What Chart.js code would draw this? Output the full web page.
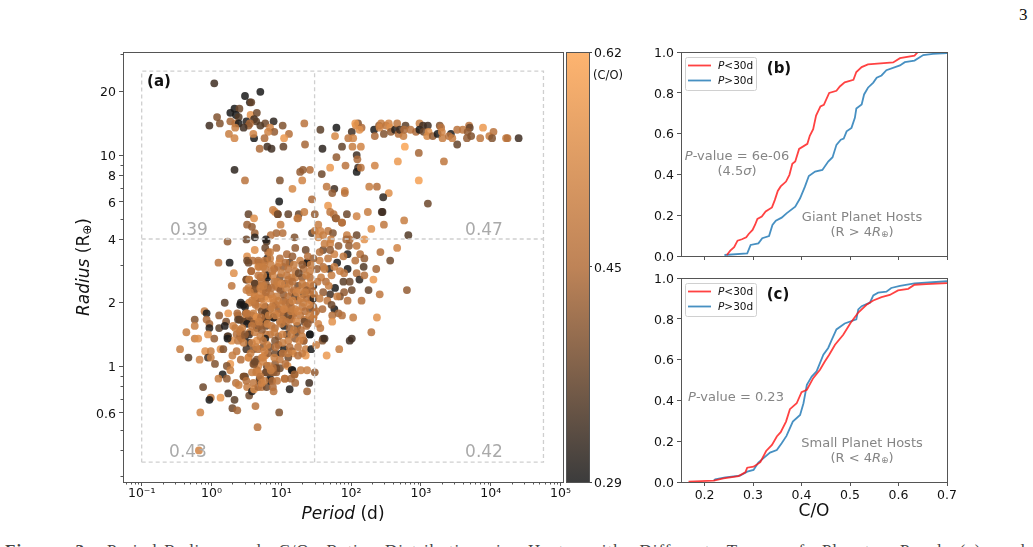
<!DOCTYPE html>
<html>
<head>
<meta charset="utf-8">
<title>C/O ratio versus period and radius</title>
<script src="https://cdn.jsdelivr.net/npm/chart.js@4"></script>
<style>
  html, body { margin: 0; padding: 0; background: #fff; width: 1033px; height: 547px; overflow: hidden; }
  canvas { position: absolute; }
  #pageNumber { position: absolute; left: 1019px; top: 5px; font: 17px "Liberation Serif", serif; color: #111; }
  #caption { position: absolute; left: 5px; top: 541px; width: 1028px; white-space: nowrap; font: 17px "Liberation Serif", serif; color: #444; word-spacing: 11.5px; letter-spacing: 1px; }
</style>
</head>
<body>
<div id="pageNumber">3</div>
<div id="caption"><b>Figure 3.</b> Period-Radius and C/O Ratio Distribution in Hosts with Different Types of Planets. Panel (a) and</div>
<canvas id="scatter" width="600" height="547" style="left:0;top:0"></canvas>
<canvas id="colorbar" width="90" height="547" style="left:560px;top:0"></canvas>
<canvas id="giants" width="403" height="240" style="left:630px;top:30px"></canvas>
<canvas id="smalls" width="403" height="287" style="left:630px;top:260px"></canvas>
<script>
// Host stars: log10 of orbital period (days), log10 of planet radius (Earth radii), stellar C/O.
const logPeriod = [
  .04,.70,.48,.55,.57,.33,.40,.27,.56,.65,
  .08,.35,.39,.12,-.03,.27,.34,.39,.50,.61,
  .64,.89,1.33,1.02,.77,.70,.55,.53,.46,.34,
  .84,.90,.81,.25,.33,.61,.60,.76,1.11,1.04,
  1.34,.69,.80,.86,1.03,1.56,1.79,2.01,2.07,2.10,
  1.77,1.96,2.03,1.59,1.87,2.02,1.79,2.08,2.09,1.70,
  1.92,2.10,2.08,.33,.48,1.41,1.31,1.27,1.58,1.30,
  .98,1.16,1.65,1.76,1.73,1.91,1.91,.97,1.44,1.67,
  .88,.95,1.10,.53,.61,1.25,1.33,1.48,1.70,1.75,
  1.94,2.08,1.78,1.23,1.87,
  2.06,2.15,2.12,2.14,2.14,2.34,2.67,2.77,2.97,3.33,
  3.52,2.97,2.26,2.37,2.54,2.46,3.10,2.24,2.44,2.76,
  2.33,2.34,2.40,2.43,2.41,2.47,2.50,2.54,2.56,2.57,
  2.63,2.66,2.68,2.70,2.75,2.78,2.76,2.85,2.93,2.98,
  2.98,3.03,3.10,3.04,3.11,3.09,3.17,3.27,3.29,3.24,
  3.30,3.31,3.43,3.40,3.45,3.52,3.60,3.69,3.70,3.67,
  3.66,3.72,3.85,3.89,3.98,4.04,4.02,4.22,4.24,4.40,
  .51,.58,.62,.62,.50,.23,.79,.62,.10,.26,
  .32,.29,.51,.51,.59,.67,.76,.57,.67,.77,
  .80,.81,.50,.54,.62,.70,.80,.56,.50,.62,
  .70,.78,.74,.19,.41,.46,.54,.24,.11,.21,
  -.10,-.07,-.24,-.07,-.24,-.03,-.03,-.36,.11,.19,
  .31,.23,-.05,-.24,-.19,.41,.38,.62,.70,.62,
  .77,.67,.49,.58,.65,.78,.49,.55,.72,.78,
  .41,.36,.65,.78,.55,.41,.48,
  .91,.95,1.24,1.79,1.87,2.45,2.47,2.29,.99,.93,
  1.02,.85,1.19,.78,1.53,1.44,1.48,1.56,1.67,1.74,
  1.53,1.60,1.71,1.94,2.08,1.98,2.82,2.66,2.42,2.56,
  2.19,2.08,1.93,1.82,1.70,1.97,2.13,1.95,1.76,1.60,
  1.70,1.89,2.06,2.19,1.80,1.67,1.55,1.37,2.18,1.95,
  2.36,1.69,2.08,1.84,1.76,1.60,1.51,2.12,2.19,2.32,
  1.89,1.98,1.77,2.25,2.80,2.01,1.90,1.70,1.84,2.41,
  1.95,2.15,2.37,1.76,1.73,1.73,1.82,1.87,2.03,2.29,
  1.53,1.60,2.01,1.59,1.46,1.41,
  .77,.93,.84,1.08,1.20,1.35,.53,.67,.76,.98,
  .84,1.12,1.37,1.27,1.46,.68,.57,.90,1.03,1.20,
  1.32,1.41,.80,.67,.74,.98,1.08,1.20,1.30,1.41,
  .50,.54,.62,.72,.90,1.05,1.12,1.24,1.35,1.46,
  .53,.62,.70,.81,.96,1.03,1.15,1.32,1.41,.55,
  .66,.73,.82,.62,.89,1.03,1.12,1.24,1.43,.42,
  .48,.63,.77,.84,.96,1.08,1.30,1.41,.72,.37,
  .50,.60,.77,.90,1.03,1.17,1.27,1.48,.38,.53,
  .65,.76,.89,.98,1.12,1.33,1.43,.46,.62,
  .51,.65,.77,.89,1.03,1.17,1.33,1.46,.40,.51,
  .60,.69,.79,.91,1.04,1.14,1.23,1.36,.34,.41,
  .24,.29,.23,.04,.43,.54,.62,.72,.84,.96,
  1.08,1.22,1.41,1.32,.54,.65,.77,.91,1.10,1.20,
  .50,.60,.74,.84,.96,1.04,1.15,1.17,1.35,1.43,
  1.35,-.45,-.09,-.01,.13,.17,-.33,-.17,-.05,-.01,
  .05,.27,.22,.27,.16,.10,.22,.46,.48,.69,
  .84,1.05,1.19,1.16,1.09,1.28,1.37,1.48,.53,.60,
  .65,.67,.65,.78,.79,.91,.86,.93,.98,.72,
  .77,.81,.91,1.00,1.10,.67,
  -.12,-.01,-.03,.13,.24,.33,.30,.37,-.16,.63,
  .97,.66,-.18,.35,.39,.46,.51,.54,.58,.61,
  .67,.69,.72,.79,.84,.87,.88,.89,1.05,1.20,
  1.12,1.40,1.37,1.15,1.19,.93,.89,.64,.78,.67,
  .61,.53,.74,1.65,1.83,1.59,1.62,1.32,1.98,
  .85,.95,1.10,1.16,1.00,.88,1.15,1.25,1.36,1.38,
  .92,.99,1.07,1.18,1.27,1.37,1.44,.85,.93,1.10,
  1.20,1.28,1.37,1.46,.70,.78,.58,.92,1.00,1.14,
  1.20,1.34,1.46,.98,1.10,.82,.71,.58,.44,.48,
  .70,.86,1.00,1.12,1.18,1.28,1.38,1.30,.80,.92,
  1.02,1.12,1.24,1.30,.56,.36,.42,.30,.74,.98,
  1.06,.88,.82,.70,.58,1.14,.94,.50,.76,.62,
  1.57,1.64,1.72,1.60,1.66,1.72,1.80,1.55,1.62,1.90,
  .74,.87,.97,1.06,1.18,1.30,1.42,.94,1.00,1.10,
  1.16,1.30,1.42,.75,.86,1.22,1.34,1.47,.88,.96,
  1.06,1.16,1.32,1.40,.75,.86,1.04,1.14,1.24,1.40,
  .92,1.02,1.07,1.22,.68,.80,.90,1.02,1.14,1.26,
  .74,.64,.76,1.10,1.24,.90,1.02,.58,.46,.38,
  1.52,1.55,1.62,1.50,1.68,1.56,1.50,.85,.72,.60
];
const logRadius = [
  1.34,1.30,1.28,1.25,1.25,1.22,1.22,1.20,1.19,1.20,
  1.18,1.19,1.18,1.15,1.14,1.16,1.15,1.15,1.16,1.17,
  1.16,1.16,1.15,1.14,1.15,1.14,1.15,1.14,1.13,1.13,
  1.13,1.11,1.11,1.10,1.08,1.08,1.10,1.08,1.10,1.08,
  1.05,1.03,1.04,1.03,1.04,1.12,1.13,1.11,1.14,1.15,
  1.09,1.08,1.08,1.03,1.04,1.04,.99,1.00,.98,.94,
  .95,.94,.92,.93,.88,.93,.93,.92,.91,.88,
  .88,.84,.85,.84,.82,.83,.82,.78,.79,.76,
  .74,.72,.72,.72,.70,.72,.73,.72,.73,.72,
  .72,.71,.70,.70,.68,
  1.15,1.13,1.12,1.04,.94,.95,.97,1.04,1.01,.97,
  1.05,.88,.85,.85,.82,.80,.77,.73,.73,.69,
  1.12,1.09,1.14,1.15,1.13,1.10,1.14,1.15,1.13,1.11,
  1.12,1.15,1.10,1.12,1.09,1.14,1.12,1.12,1.11,1.15,
  1.12,1.14,1.14,1.11,1.11,1.09,1.09,1.14,1.13,1.10,
  1.11,1.08,1.10,1.09,1.08,1.12,1.12,1.14,1.13,1.11,
  1.08,1.09,1.08,1.13,1.09,1.11,1.08,1.08,1.08,1.08,
  .67,.66,.63,.61,.60,.59,.59,.55,.49,.49,
  .44,.38,.52,.50,.50,.49,.49,.45,.47,.46,
  .51,.54,.41,.41,.39,.42,.43,.36,.36,.36,
  .38,.39,.36,.30,.29,.29,.30,.25,.24,.21,
  .26,.25,.22,.22,.19,.20,.18,.16,.18,.19,
  .19,.14,.15,.13,.13,.22,.24,.33,.32,.30,
  .33,.28,.25,.24,.23,.23,.22,.21,.20,.19,
  .17,.15,.18,.15,.16,.14,.14,
  .73,.72,.70,.70,.68,.73,.67,.65,.67,.63,
  .63,.62,.61,.60,.67,.63,.64,.64,.64,.63,
  .61,.62,.60,.62,.62,.60,.62,.56,.54,.50,
  .60,.57,.60,.57,.58,.57,.53,.53,.53,.55,
  .55,.52,.50,.51,.49,.51,.50,.49,.47,.46,
  .46,.46,.44,.45,.47,.47,.46,.41,.43,.41,
  .40,.40,.37,.36,.36,.36,.35,.34,.33,.34,
  .31,.31,.23,.27,.24,.21,.25,.24,.23,.16,
  .20,.13,.13,.27,.23,.15,
  .56,.56,.54,.53,.56,.55,.49,.50,.50,.51,
  .51,.49,.49,.50,.51,.47,.45,.46,.47,.45,
  .46,.45,.42,.43,.43,.42,.43,.42,.42,.42,
  .41,.41,.39,.40,.40,.39,.39,.38,.38,.38,
  .37,.36,.37,.37,.37,.34,.35,.34,.34,.35,
  .32,.32,.32,.33,.30,.31,.30,.31,.31,.30,
  .28,.29,.28,.27,.27,.27,.28,.27,.26,.25,
  .25,.25,.25,.25,.24,.25,.24,.25,.22,.22,
  .23,.22,.23,.21,.22,.22,.22,.21,.21,
  .25,.23,.25,.23,.26,.24,.21,.23,.22,.20,
  .20,.19,.22,.18,.19,.22,.19,.19,.18,.16,
  .14,.12,.13,.13,.13,.15,.16,.17,.15,.14,
  .15,.16,.15,.12,.11,.12,.13,.12,.12,.13,
  .08,.08,.09,.09,.10,.08,.07,.06,.08,.08,
  .05,.08,.07,.07,.08,.08,.04,.03,.04,.04,
  .01,.01,.00,-.02,-.04,-.06,-.06,-.05,-.05,-.06,
  -.06,-.06,-.04,-.02,.00,-.02,-.02,-.03,.04,.01,
  .03,.00,-.02,-.03,.00,.01,-.03,-.03,-.01,.04,
  .05,.06,.06,.06,.04,.08,
  -.10,-.15,-.16,-.15,-.13,-.16,-.20,-.21,-.22,-.19,
  -.22,-.29,-.40,-.08,-.09,-.05,-.10,-.14,-.12,-.11,
  -.10,-.07,-.10,-.10,-.07,-.07,-.10,-.12,-.06,-.08,
  -.11,-.08,-.12,-.02,-.04,-.01,-.03,-.03,-.03,-.03,
  .01,.04,.04,.05,.08,.12,.13,.12,.12,
  .48,.47,.46,.52,.44,.43,.42,.44,.43,.52,
  .38,.36,.37,.36,.36,.36,.36,.34,.33,.33,
  .33,.32,.32,.32,.34,.35,.31,.29,.29,.28,
  .27,.26,.28,.25,.24,.24,.23,.19,.18,.15,
  .14,.19,.20,.18,.17,.17,.20,.14,.10,.09,
  .11,.09,.09,.06,.06,.07,.03,.05,.02,.03,
  .01,-.01,.00,-.05,-.03,-.06,-.07,-.07,-.07,.02,
  .42,.40,.43,.35,.31,.29,.33,.54,.58,.44,
  .47,.45,.49,.49,.48,.48,.48,.40,.39,.41,
  .40,.39,.39,.38,.37,.35,.35,.34,.32,.31,
  .30,.31,.30,.29,.29,.28,.27,.26,.26,.24,
  .24,.22,.21,.21,.21,.20,.16,.15,.15,.12,
  .12,.09,.07,.06,.05,.04,.06,.11,.11,.12,
  .40,.32,.46,.26,.38,.18,.10,-.02,-.08,-.08
];
const coRatio = [
  .33,.29,.29,.31,.37,.29,.38,.29,.56,.38,
  .40,.29,.35,.40,.33,.44,.46,.29,.30,.33,
  .36,.31,.47,.40,.38,.35,.45,.42,.33,.50,
  .52,.42,.52,.50,.52,.29,.52,.45,.46,.58,
  .44,.45,.33,.33,.37,.36,.29,.33,.52,.40,
  .53,.48,.52,.31,.37,.50,.42,.33,.45,.58,
  .47,.33,.29,.31,.47,.46,.42,.42,.38,.52,
  .40,.53,.48,.33,.42,.52,.47,.29,.45,.58,
  .50,.40,.37,.37,.55,.37,.50,.42,.48,.47,
  .38,.52,.38,.50,.42,
  .58,.45,.56,.52,.47,.52,.58,.61,.44,.48,
  .37,.60,.50,.46,.55,.31,.38,.50,.33,.50,
  .29,.45,.42,.50,.52,.40,.48,.52,.55,.42,
  .30,.48,.46,.33,.50,.36,.45,.47,.45,.50,
  .29,.33,.33,.38,.55,.53,.42,.40,.47,.29,
  .52,.50,.29,.47,.50,.47,.48,.47,.37,.42,
  .42,.40,.48,.58,.50,.47,.40,.50,.46,.33,
  .43,.42,.43,.31,.38,.42,.35,.55,.47,.29,
  .55,.48,.55,.38,.46,.50,.48,.45,.55,.48,
  .30,.45,.36,.50,.40,.45,.29,.55,.50,.50,
  .50,.42,.45,.36,.29,.29,.50,.58,.42,.40,
  .50,.29,.40,.45,.50,.44,.30,.50,.36,.30,
  .52,.33,.55,.50,.55,.48,.50,.50,.48,.48,
  .45,.50,.40,.45,.33,.50,.52,.30,.42,.38,
  .50,.46,.29,.48,.50,.44,.30,
  .52,.38,.48,.44,.47,.33,.48,.55,.50,.44,
  .46,.47,.40,.30,.50,.35,.48,.52,.48,.40,
  .52,.50,.50,.50,.38,.45,.35,.52,.46,.38,
  .56,.48,.44,.42,.52,.42,.46,.30,.52,.38,
  .42,.48,.46,.42,.29,.48,.50,.30,.35,.29,
  .44,.31,.46,.50,.50,.46,.42,.31,.46,.58,
  .36,.38,.29,.37,.42,.38,.42,.33,.40,.48,
  .46,.46,.56,.29,.46,.56,.44,.46,.50,.47,
  .52,.33,.33,.45,.45,.29,
  .38,.45,.50,.45,.42,.38,.38,.46,.48,.46,
  .50,.36,.29,.50,.42,.50,.45,.46,.42,.48,
  .46,.50,.29,.48,.50,.40,.48,.50,.42,.46,
  .40,.50,.36,.48,.46,.40,.50,.38,.46,.30,
  .50,.40,.50,.40,.45,.42,.48,.36,.50,.50,
  .45,.50,.56,.52,.50,.42,.38,.46,.50,.29,
  .29,.48,.33,.46,.42,.46,.48,.38,.40,.45,
  .50,.50,.36,.50,.40,.46,.48,.50,.36,.42,
  .55,.33,.29,.46,.50,.48,.42,.36,.46,
  .48,.55,.36,.30,.46,.48,.38,.50,.36,.29,
  .42,.45,.36,.46,.29,.46,.36,.46,.50,.50,
  .36,.55,.29,.42,.46,.33,.50,.42,.48,.42,
  .33,.36,.29,.36,.29,.55,.29,.40,.50,.42,
  .33,.40,.40,.38,.42,.29,.40,.55,.50,.29,
  .57,.50,.55,.50,.55,.40,.36,.52,.33,.50,
  .40,.58,.40,.50,.29,.50,.42,.40,.36,.37,
  .29,.48,.50,.29,.56,.50,.50,.42,.47,.40,
  .40,.52,.48,.40,.38,.42,.40,.42,.38,.50,
  .55,.42,.38,.30,.38,.46,
  .38,.48,.29,.58,.33,.36,.38,.44,.52,.47,
  .40,.47,.52,.47,.50,.40,.50,.38,.30,.55,
  .44,.37,.47,.38,.29,.45,.45,.47,.47,.44,
  .30,.33,.44,.29,.44,.38,.42,.50,.38,.52,
  .40,.55,.52,.58,.50,.40,.33,.45,.33,
  .50,.46,.48,.42,.50,.52,.50,.38,.50,.46,
  .50,.42,.50,.46,.50,.42,.46,.48,.50,.46,
  .38,.52,.46,.30,.52,.46,.50,.46,.50,.46,
  .50,.46,.42,.48,.38,.50,.46,.48,.50,.42,
  .50,.48,.50,.42,.50,.46,.42,.50,.52,.46,
  .50,.46,.48,.50,.50,.48,.46,.50,.52,.48,
  .46,.46,.50,.48,.50,.44,.48,.46,.50,.38,
  .50,.46,.50,.42,.48,.38,.50,.46,.50,.48,
  .50,.48,.52,.46,.50,.42,.50,.50,.52,.48,
  .46,.50,.52,.50,.46,.52,.50,.48,.52,.50,
  .48,.52,.50,.52,.52,.50,.52,.50,.52,.50,
  .52,.50,.48,.52,.50,.52,.50,.52,.50,.52,
  .48,.50,.52,.50,.46,.50,.48,.52,.50,.48,
  .48,.50,.50,.46,.50,.48,.50,.50,.52,.48
];

// Quadrant guides: period cut at 30 d, radius cut at 4 Earth radii, outer box.
const boxPeriods = [0.1, 57000, 57000, 0.1, 0.1];
const boxRadii = [0.35, 0.35, 25, 25, 0.35];
const cutPeriod = [30, 30];
const cutPeriodRadii = [0.35, 25];
const cutRadiusPeriods = [0.1, 57000];
const cutRadius = [4, 4];
const quadrantMedians = ['0.39', '0.47', '0.43', '0.42'];

// Cumulative C/O distributions, giant planet hosts.
const giantShortCO = [.246,.253,.261,.268,.277,.286,.291,.299,.304,.309,.318,.326,.339,.345,.351,.357,.368,.375,.381,.387,.395,.412,.417,.424,.430,.439,.446,.457,.472,.479,.489,.507,.513,.524,.537,.589,.603,.633,.640];
const giantShortCDF = [.005,.026,.043,.075,.082,.092,.108,.128,.152,.182,.193,.218,.238,.275,.319,.341,.365,.398,.452,.463,.525,.550,.589,.622,.688,.733,.741,.799,.810,.831,.851,.864,.902,.926,.939,.949,.970,.982,1];
const giantLongCO = [.241,.288,.295,.311,.319,.333,.340,.347,.359,.369,.387,.397,.407,.415,.428,.443,.455,.464,.472,.481,.487,.493,.503,.510,.513,.524,.529,.537,.548,.555,.565,.575,.603,.613,.633,.651,.671,.700];
const giantLongCDF = [.005,.013,.054,.062,.087,.098,.152,.173,.188,.209,.242,.283,.340,.392,.414,.422,.463,.484,.545,.570,.576,.611,.628,.677,.723,.743,.792,.825,.850,.874,.885,.911,.934,.950,.958,.985,.991,.995];

// Cumulative C/O distributions, small planet hosts.
const smallShortCO = [.167,.219,.239,.270,.284,.288,.301,.315,.327,.339,.349,.357,.368,.376,.390,.400,.411,.424,.438,.448,.457,.469,.486,.501,.517,.534,.548,.565,.582,.599,.620,.633,.657,.700];
const smallShortCDF = [.002,.007,.018,.029,.047,.070,.075,.097,.152,.182,.223,.244,.296,.357,.386,.440,.452,.509,.550,.591,.624,.673,.722,.779,.831,.869,.890,.906,.917,.939,.947,.967,.970,.975];
const smallLongCO = [.219,.222,.243,.273,.288,.301,.311,.321,.335,.349,.359,.369,.382,.397,.404,.411,.421,.431,.445,.455,.462,.472,.489,.513,.517,.524,.541,.548,.558,.575,.585,.603,.633,.700];
const smallLongCDF = [.007,.013,.023,.031,.051,.059,.095,.116,.144,.157,.190,.226,.296,.329,.386,.476,.517,.542,.624,.657,.695,.748,.777,.797,.846,.862,.879,.915,.928,.933,.951,.961,.974,.984];

// Axis ticks.
const periodTicks = [0.1, 1, 10, 100, 1000, 10000, 100000];
const periodTickLabels = ['10\u207B\u00B9', '10\u2070', '10\u00B9', '10\u00B2', '10\u00B3', '10\u2074', '10\u2075'];
const periodMinor = [.06,.07,.08,.09, .2,.3,.4,.5,.6,.7,.8,.9, 2,3,4,5,6,7,8,9, 20,30,40,50,60,70,80,90, 200,300,400,500,600,700,800,900, 2000,3000,4000,5000,6000,7000,8000,9000, 20000,30000,40000,50000,60000,70000,80000,90000];
const radiusTicks = [0.6, 1, 2, 4, 6, 8, 10, 20];
const radiusTickLabels = ['0.6', '1', '2', '4', '6', '8', '10', '20'];
const radiusMinor = [.3,.4,.5,.7,.8,.9,3,5,7,9,30];
const colorbarTicks = [0.29, 0.455, 0.62];
const colorbarTickLabels = ['0.29', '0.45', '0.62'];
const coTicks = [0.2, 0.3, 0.4, 0.5, 0.6, 0.7];
const cdfTicks = [0, 0.2, 0.4, 0.6, 0.8, 1];
const cdfTickLabels = ['0.0', '0.2', '0.4', '0.6', '0.8', '1.0'];

const FONT = '"DejaVu Sans", sans-serif';
const INK = '#111';
const NOTE_GRAY = '#858585';
const GUIDE_GRAY = '#aaaaaa';
const RED = 'rgba(255,25,25,0.82)';
const BLUE = 'rgba(31,119,180,0.82)';
const LOW = [26, 26, 26], MID = [179, 110, 58], HIGH = [253, 167, 87], ALPHA = 0.85;
const BASELINE_SHIFT = 1.5;

function copperish(c) {
  const t = Math.min(1, Math.max(0, (c - 0.29) / 0.33));
  const [from, to, f] = t < 0.5 ? [LOW, MID, t / 0.5] : [MID, HIGH, (t - 0.5) / 0.5];
  const m = from.map((v, i) => Math.round(v + (to[i] - v) * f));
  return `rgba(${m[0]},${m[1]},${m[2]},${ALPHA})`;
}

function runFont(run, size) {
  return `${run.b ? 'bold ' : ''}${run.i ? 'italic ' : ''}${run.size || size}px ${FONT}`;
}

// Draws one line of mixed-style text (italics, subscripts) centred or left/right aligned.
function drawRuns(ctx, item) {
  const size = item.size || 13;
  ctx.save();
  ctx.translate(item.x, item.y);
  if (item.rotate) ctx.rotate(item.rotate);
  ctx.textBaseline = 'middle';
  ctx.textAlign = 'left';
  ctx.fillStyle = item.color || INK;
  let total = 0;
  item.runs.forEach(r => { ctx.font = runFont(r, size); total += ctx.measureText(r.t).width; });
  let x = item.align === 'left' ? 0 : item.align === 'right' ? -total : -total / 2;
  item.runs.forEach(r => {
    ctx.font = runFont(r, size);
    ctx.fillText(r.t, x, (r.dy || 0) + BASELINE_SHIFT);
    x += ctx.measureText(r.t).width;
  });
  ctx.restore();
}

const panelDecor = {
  id: 'panelDecor',
  afterDraw(chart, args, opts) {
    const ctx = chart.ctx, area = chart.chartArea;
    ctx.save();
    ctx.strokeStyle = '#555';
    ctx.lineWidth = 1;
    ctx.strokeRect(area.left + 0.5, area.top + 0.5, area.right - area.left, area.bottom - area.top);
    (opts.minorX || []).forEach(v => {
      const x = Math.round(chart.scales.x.getPixelForValue(v)) + 0.5;
      ctx.beginPath(); ctx.moveTo(x, area.bottom); ctx.lineTo(x, area.bottom + 2.5); ctx.stroke();
    });
    (opts.minorY || []).forEach(v => {
      const y = Math.round(chart.scales.y.getPixelForValue(v)) + 0.5;
      ctx.beginPath(); ctx.moveTo(area.left, y); ctx.lineTo(area.left - 2.5, y); ctx.stroke();
    });
    if (opts.legend) {
      const L = opts.legend;
      ctx.beginPath();
      ctx.roundRect(L.x + 0.5, L.y + 0.5, 71, 33, 2);
      ctx.fillStyle = 'rgba(255,255,255,0.85)';
      ctx.fill();
      ctx.strokeStyle = '#d0d0d0';
      ctx.stroke();
      [[RED, '<30d', 8.5], [BLUE, '>30d', 23.5]].forEach(([color, text, dy]) => {
        ctx.strokeStyle = color;
        ctx.lineWidth = 1.8;
        ctx.beginPath(); ctx.moveTo(L.x + 3, L.y + dy); ctx.lineTo(L.x + 26, L.y + dy); ctx.stroke();
        drawRuns(ctx, { x: L.x + 33, y: L.y + dy - 1, align: 'left', size: 10.5, runs: [{ t: 'P', i: true }, { t: text }] });
      });
    }
    ctx.restore();
    // Vertical-axis labels sit on the scale's own pixel for each tick value.
    if (opts.yLabels) {
      const { values, labels, side } = opts.yLabels;
      values.forEach((v, i) => {
        const y = chart.scales.y.getPixelForValue(v);
        const x = side === 'right' ? area.right + 5 : area.left - 7;
        drawRuns(ctx, { x, y, size: 12.5, align: side === 'right' ? 'left' : 'right', runs: [{ t: labels[i] }] });
      });
    }
    (opts.texts || []).forEach(item => drawRuns(ctx, item));
  }
};
Chart.register(panelDecor);

function fixedTicks(values) {
  return scale => { scale.ticks = values.map(v => ({ value: v })); };
}
function fixWidth(w) { return scale => { scale.width = w; }; }
function fixHeight(h) { return scale => { scale.height = h; }; }

const commonOptions = { responsive: false, animation: false, events: [] };
const tickFont = { family: FONT, size: 12.5 };
const hideTooltip = { legend: { display: false }, tooltip: { enabled: false } };
const guideLine = (x, y) => ({
  type: 'scatter', showLine: true, pointRadius: 0, borderWidth: 1.3, borderColor: '#cfcfcf',
  borderDash: [4, 3], data: x.map((v, i) => ({ x: v, y: y[i] }))
});

new Chart(document.getElementById('scatter'), {
  type: 'scatter',
  data: {
    datasets: [
      guideLine(boxPeriods, boxRadii),
      guideLine(cutPeriod, cutPeriodRadii),
      guideLine(cutRadiusPeriods, cutRadius),
      {
        data: logPeriod.map((p, i) => ({ x: Math.pow(10, p), y: Math.pow(10, logRadius[i]) })),
        pointRadius: 3.9,
        pointBorderWidth: 0,
        pointBackgroundColor: coRatio.map(copperish)
      }
    ]
  },
  options: {
    ...commonOptions,
    layout: { padding: { left: 73, top: 52, right: 37, bottom: 25 } },
    scales: {
      x: {
        type: 'logarithmic', min: 0.054, max: 108600,
        afterBuildTicks: fixedTicks(periodTicks), afterFit: fixHeight(40),
        border: { display: false },
        grid: { drawOnChartArea: false, tickLength: 4, tickColor: '#555' },
        ticks: { autoSkip: false, maxRotation: 0, minRotation: 0, padding: 0, color: INK, font: tickFont, callback: (v, i) => periodTickLabels[i] }
      },
      y: {
        type: 'logarithmic', min: 0.282, max: 30.8,
        afterBuildTicks: fixedTicks(radiusTicks), afterFit: fixWidth(50),
        border: { display: false },
        grid: { drawOnChartArea: false, tickLength: 4, tickColor: '#555' },
        ticks: { display: false }
      }
    },
    plugins: {
      ...hideTooltip,
      panelDecor: {
        minorX: periodMinor,
        minorY: radiusMinor,
        yLabels: { values: radiusTicks, labels: radiusTickLabels, side: 'left' },
        texts: [
          { x: 159, y: 81, size: 15, runs: [{ t: '(a)', b: true }] },
          { x: 189, y: 229, size: 17, color: GUIDE_GRAY, runs: [{ t: quadrantMedians[0] }] },
          { x: 484, y: 229, size: 17, color: GUIDE_GRAY, runs: [{ t: quadrantMedians[1] }] },
          { x: 188, y: 451, size: 17, color: GUIDE_GRAY, runs: [{ t: quadrantMedians[2] }] },
          { x: 484, y: 451, size: 17, color: GUIDE_GRAY, runs: [{ t: quadrantMedians[3] }] },
          { x: 343, y: 513, size: 17, runs: [{ t: 'Period', i: true }, { t: ' (d)' }] },
          { x: 83, y: 267, size: 17, rotate: -Math.PI / 2, runs: [{ t: 'Radius', i: true }, { t: ' (R' }, { t: '\u2295', size: 12, dy: 3 }, { t: ')' }] }
        ]
      }
    }
  }
});

new Chart(document.getElementById('colorbar'), {
  type: 'bar',
  data: {
    labels: ['C/O'],
    datasets: [{
      data: [[0.29, 0.62]],
      barPercentage: 1,
      categoryPercentage: 1,
      borderWidth: 0,
      backgroundColor: ctx => {
        const area = ctx.chart.chartArea;
        if (!area) return copperish(0.45);
        const g = ctx.chart.ctx.createLinearGradient(0, area.bottom, 0, area.top);
        g.addColorStop(0, copperish(0.29));
        g.addColorStop(0.5, copperish(0.455));
        g.addColorStop(1, copperish(0.62));
        return g;
      }
    }]
  },
  options: {
    ...commonOptions,
    layout: { padding: { left: 6, top: 52, right: 0, bottom: 65 } },
    scales: {
      x: { display: false },
      y: {
        min: 0.29, max: 0.62, position: 'right',
        afterBuildTicks: fixedTicks(colorbarTicks), afterFit: fixWidth(61),
        border: { display: false },
        grid: { drawOnChartArea: false, tickLength: 3, tickColor: '#444' },
        ticks: { display: false }
      }
    },
    plugins: {
      ...hideTooltip,
      panelDecor: {
        yLabels: { values: colorbarTicks, labels: colorbarTickLabels, side: 'right' },
        texts: [{ x: 48, y: 75, size: 11.5, runs: [{ t: '(C/O)' }] }]
      }
    }
  }
});

// Builds one cumulative-distribution panel.
function cdfChart(id, shortCO, shortCDF, longCO, longCDF, layoutPadding, xHeight, showLabels, decor) {
  const series = (x, y, color) => ({
    type: 'line', data: x.map((v, i) => ({ x: v, y: y[i] })), borderColor: color,
    borderWidth: 1.8, pointRadius: 0, tension: 0, fill: false
  });
  new Chart(document.getElementById(id), {
    type: 'line',
    data: { datasets: [series(shortCO, shortCDF, RED), series(longCO, longCDF, BLUE)] },
    options: {
      ...commonOptions,
      layout: { padding: layoutPadding },
      scales: {
        x: {
          type: 'linear', min: 0.1514, max: 0.7,
          afterBuildTicks: fixedTicks(coTicks), afterFit: fixHeight(xHeight),
          border: { display: false },
          grid: { drawOnChartArea: false, tickLength: 4, tickColor: '#555' },
          ticks: { autoSkip: false, maxRotation: 0, padding: 2, color: INK, font: tickFont, callback: v => showLabels ? v.toFixed(1) : '' }
        },
        y: {
          min: 0, max: 1,
          afterBuildTicks: fixedTicks(cdfTicks), afterFit: fixWidth(40),
          border: { display: false },
          grid: { drawOnChartArea: false, tickLength: 4, tickColor: '#555' },
          ticks: { display: false }
        }
      },
      plugins: { ...hideTooltip, panelDecor: { ...decor, yLabels: { values: cdfTicks, labels: cdfTickLabels, side: 'left' } } }
    }
  });
}

const earth = { t: '\u2295', size: 9, dy: 2 };
cdfChart('giants', giantShortCO, giantShortCDF, giantLongCO, giantLongCDF,
  { left: 11, top: 22, right: 86, bottom: 6 }, 8, false, {
    legend: { x: 55, y: 27 },
    texts: [
      { x: 149, y: 38, size: 15, runs: [{ t: '(b)', b: true }] },
      { x: 107, y: 125, color: NOTE_GRAY, runs: [{ t: 'P', i: true }, { t: '-value = 6e-06' }] },
      { x: 107, y: 140, color: NOTE_GRAY, runs: [{ t: '(4.5' }, { t: '\u03C3', i: true }, { t: ')' }] },
      { x: 232, y: 186, color: NOTE_GRAY, runs: [{ t: 'Giant Planet Hosts' }] },
      { x: 232, y: 201, color: NOTE_GRAY, runs: [{ t: '(R > 4' }, { t: 'R', i: true }, earth, { t: ')' }] }
    ]
  });

cdfChart('smalls', smallShortCO, smallShortCDF, smallLongCO, smallLongCDF,
  { left: 11, top: 18, right: 86, bottom: 35 }, 30, true, {
    legend: { x: 55, y: 23 },
    texts: [
      { x: 148, y: 34, size: 15, runs: [{ t: '(c)', b: true }] },
      { x: 106, y: 136, color: NOTE_GRAY, runs: [{ t: 'P', i: true }, { t: '-value = 0.23' }] },
      { x: 232, y: 182, color: NOTE_GRAY, runs: [{ t: 'Small Planet Hosts' }] },
      { x: 232, y: 197, color: NOTE_GRAY, runs: [{ t: '(R < 4' }, { t: 'R', i: true }, earth, { t: ')' }] },
      { x: 184, y: 250, size: 17, runs: [{ t: 'C/O' }] }
    ]
  });
</script>
</body>
</html>
